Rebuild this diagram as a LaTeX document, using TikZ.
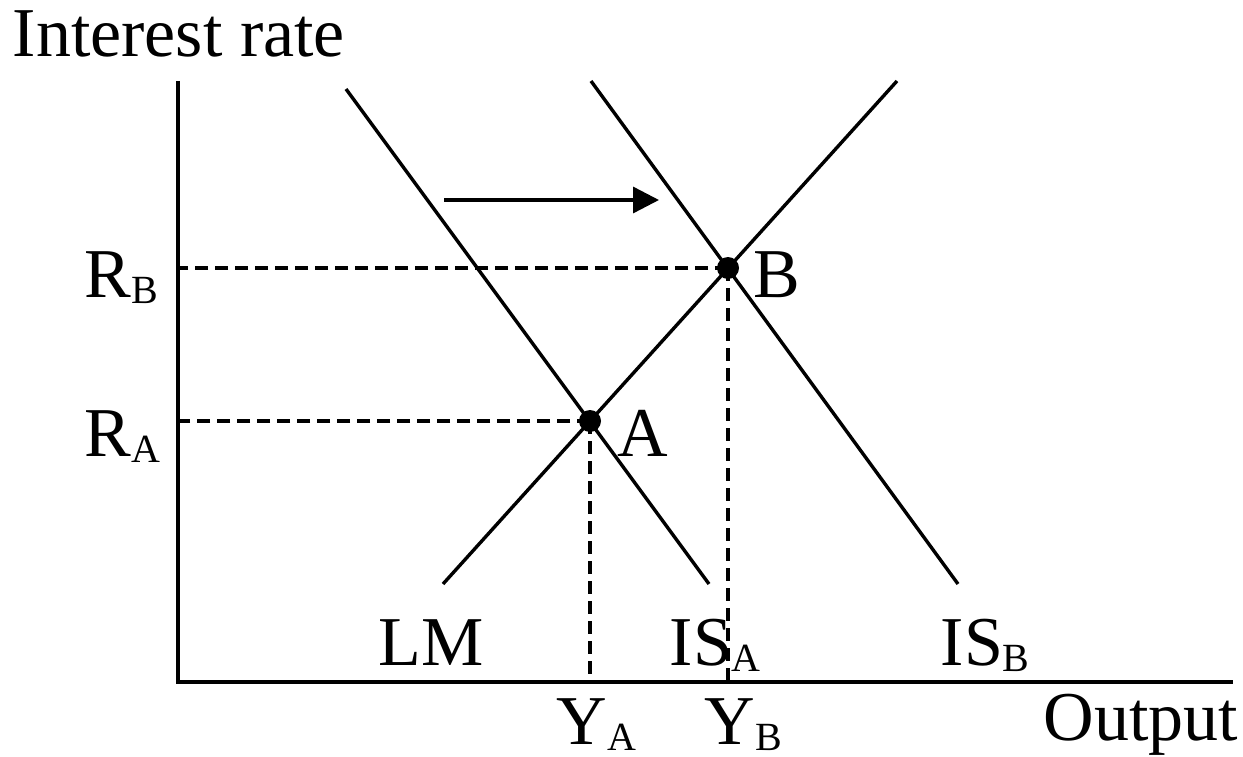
\documentclass[tikz,border=0pt]{standalone}
\usepackage{fontspec}
\setmainfont{Liberation Serif}
\usetikzlibrary{arrows.meta,positioning}
\newcommand{\lowsub}[1]{\raisebox{-6pt}{\fontsize{40}{44}\selectfont #1}}

\begin{document}
\begin{tikzpicture}[x=1pt, y=-1pt, line width=3.4pt,
    every node/.style={font=\fontsize{70}{82}\selectfont, inner sep=0pt, anchor=base west},
    dot/.style={circle, fill, minimum size=22pt, anchor=center},
    guide/.style={dash pattern=on 13pt off 7pt}]
  \useasboundingbox (0,0) rectangle (1243,757);

  % axes
  \coordinate (Top) at (178,81);
  \coordinate (O) at (178,682);
  \coordinate (Right) at (1233,682);
  \draw[line width=3.8pt] (Top) -- (O) -- (Right);

  % curves
  \coordinate (LMlo) at (443,584);
  \coordinate (LMhi) at (897,81);
  \coordinate (ISAhi) at (346,89);
  \coordinate (ISAlo) at (709,584);
  \coordinate (ISBhi) at (591,81);
  \coordinate (ISBlo) at (958,584);
  \draw (LMlo) -- (LMhi);
  \draw (ISAhi) -- (ISAlo);
  \draw (ISBhi) -- (ISBlo);

  % equilibria
  \node[dot] (A) at (590,421) {};
  \node[dot] (B) at (728,268) {};
  \draw[guide] (A.center) -- (A.center -| O);
  \draw[guide] (A.center) -- (A.center |- O);
  \draw[guide] (B.center) -- (B.center -| O);
  \draw[guide] (B.center) -- (B.center |- O);

  % shift of IS
  \coordinate (ShiftL) at (444,200);
  \coordinate (ShiftR) at (659,200);
  \draw[-{Triangle[length=26pt,width=26pt]}] (ShiftL) -- (ShiftR);

  % labels
  \node (ylab) at (11,57) {Interest rate};
  \node (xlab) at (1042,740) {Output};
  \node (RB) at (83,297) {R\lowsub{B}};
  \node (RA) at (83,456) {R\lowsub{A}};
  \node (Blab) at (752,297) {B};
  \node (Alab) at (616,456) {A};
  \node (LM) at (377,665) {LM};
  \node (ISA) at (668,665) {IS\lowsub{A}};
  \node (ISB) at (939,665) {IS\lowsub{B}};
  \node (YA) at (555,744) {Y\lowsub{A}};
  \node (YB) at (703,744) {Y\lowsub{B}};
\end{tikzpicture}
\end{document}
